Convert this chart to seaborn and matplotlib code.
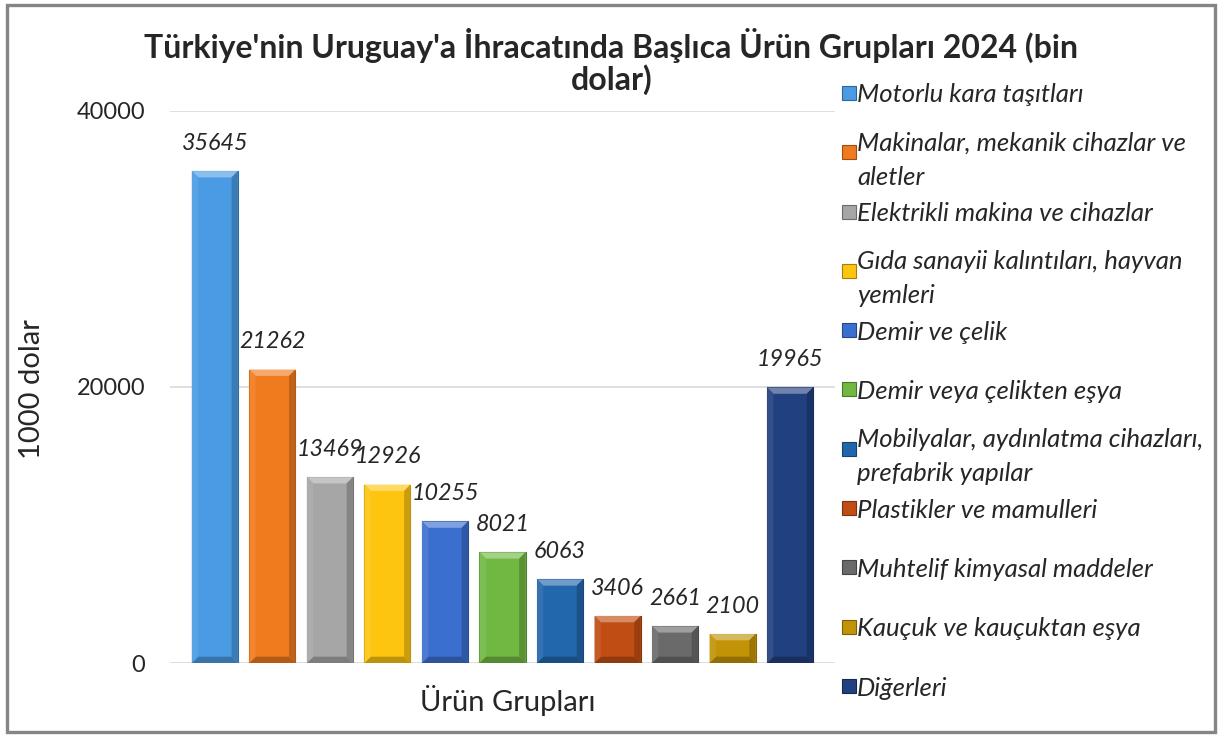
import matplotlib
matplotlib.use("Agg")
import matplotlib.pyplot as plt
from matplotlib.patches import Polygon, Rectangle
from matplotlib.colors import to_rgb
import seaborn as sns
import pandas as pd
import numpy as np

# data
groups = [
    "Motorlu kara taşıtları",
    "Makinalar, mekanik cihazlar ve\naletler",
    "Elektrikli makina ve cihazlar",
    "Gıda sanayii kalıntıları, hayvan\nyemleri",
    "Demir ve çelik",
    "Demir veya çelikten eşya",
    "Mobilyalar, aydınlatma cihazları,\nprefabrik yapılar",
    "Plastikler ve mamulleri",
    "Muhtelif kimyasal maddeler",
    "Kauçuk ve kauçuktan eşya",
    "Diğerleri",
]
values = [35645, 21262, 13469, 12926, 10255, 8021, 6063, 3406, 2661, 2100, 19965]
colors = ["#4a9be3", "#f07a1e", "#a6a6a6", "#fdc410", "#3b6fcf", "#71b843",
          "#2266ab", "#c04d14", "#6a6a6a", "#c29306", "#21407f"]
title_lines = ["Türkiye'nin Uruguay'a İhracatında Başlıca Ürün Grupları 2024 (bin",
               "dolar)"]
y_label = "1000 dolar"
x_label = "Ürün Grupları"
y_ticks = [0, 20000, 40000]

sns.set_style("white")
plt.rcParams['font.family'] = ['Lato', 'DejaVu Sans']

W, H = 1221, 735
fig = plt.figure(figsize=(W / 100, H / 100), dpi=100)
ax = fig.add_axes([170 / W, (H - 663) / H, (835 - 170) / W, (663 - 111) / H])

df = pd.DataFrame({"grup": groups, "deger": values})
sns.barplot(data=df, x="grup", y="deger", hue="grup", palette=colors,
            width=0.8, legend=False, ax=ax, saturation=1)

ax.set_xlim(-0.78, len(values) - 1 + 0.78)
ax.set_ylim(0, 40000)
ax.set_yticks(y_ticks)
ax.set_yticklabels([str(t) for t in y_ticks])
ax.set_xticks([])
ax.tick_params(axis='y', labelsize=17, length=0, pad=18)
for s in ax.spines.values():
    s.set_visible(False)
ax.grid(axis='y', color='#d9d9d9', linewidth=1.2)
ax.set_axisbelow(True)
ax.set_xlabel(x_label, fontsize=21)
ax.xaxis.set_label_coords((508 - 170) / 665, -(700 - 663) / 552)
ax.xaxis.label.set_va('center')
ax.set_ylabel(y_label, fontsize=21)
ax.yaxis.set_label_coords((32 - 170) / 665, (663 - 389) / 552)
ax.yaxis.label.set_va('center')


def shade(c, f):
    r = np.array(to_rgb(c))
    if f > 0:
        return tuple(r + (1 - r) * f)
    return tuple(r * (1 + f))


# bevel look on each bar, computed from the bar patches
bx = 0.11
by = bx * (57.3 / (552 / 40000))
for p, c in zip(ax.patches, colors):
    x0, w, h = p.get_x(), p.get_width(), p.get_height()
    x1 = x0 + w
    p.set_edgecolor(shade(c, -0.3))
    p.set_linewidth(0.8)
    b = min(by, h / 2)
    faces = [
        ([(x0, h), (x1, h), (x1 - bx, h - b), (x0 + bx, h - b)], 0.35),
        ([(x0, 0), (x1, 0), (x1 - bx, b), (x0 + bx, b)], -0.25),
        ([(x0, 0), (x0, h), (x0 + bx, h - b), (x0 + bx, b)], 0.08),
        ([(x1, 0), (x1, h), (x1 - bx, h - b), (x1 - bx, b)], -0.2),
    ]
    for pts, f in faces:
        ax.add_patch(Polygon(pts, closed=True, facecolor=shade(c, f),
                             edgecolor='none', zorder=p.get_zorder() + 0.1))
    ax.annotate(str(int(h)), (x0 + w / 2, h), xytext=(0, 20),
                textcoords='offset points', ha='center', va='center',
                fontsize=16.8, style='italic')

# title, two lines
fig.text(0.5, 1 - 45 / H, title_lines[0], ha='center', va='center',
         fontsize=23, fontweight='bold')
fig.text(612 / W, 1 - 80 / H, title_lines[1], ha='center', va='center',
         fontsize=23, fontweight='bold')

# legend drawn at the right side
step = 59.3
for i, (lab, c) in enumerate(zip(groups, colors)):
    yc = 93 + i * step
    fig.add_artist(Rectangle((842 / W, 1 - (yc + 7) / H), 14 / W, 14 / H,
                             transform=fig.transFigure, facecolor=c,
                             edgecolor=shade(c, -0.35), linewidth=0.8))
    fig.text(857 / W, 1 - yc / H, lab, ha='left', va='center_baseline',
             fontsize=18.5, style='italic', linespacing=1.6)

fig.add_artist(Rectangle((6.5 / W, 3 / H), 1208 / W, 727 / H,
                         transform=fig.transFigure, fill=False,
                         edgecolor='#858585', linewidth=2.4))

fig.savefig("out.png", dpi=100)
